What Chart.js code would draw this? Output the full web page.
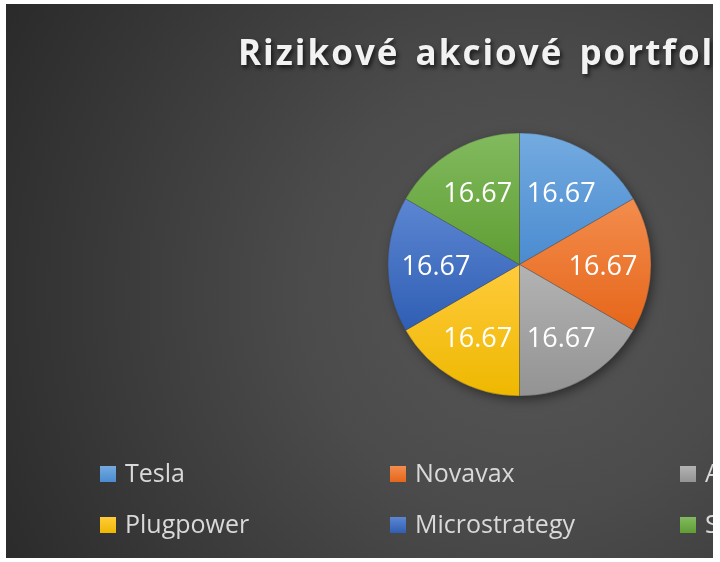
<!DOCTYPE html>
<html>
<head>
<meta charset="utf-8">
<script src="https://cdn.jsdelivr.net/npm/chart.js@4.4.1/dist/chart.umd.min.js"></script>
<style>
html, body { margin: 0; padding: 0; background: #fff; }
#box {
  position: absolute; left: 6px; top: 4px; width: 707px; height: 554px; overflow: hidden;
  background: radial-gradient(circle 640px at 519px 290px, #575757 0%, #4b4b4b 35%, #262626 100%);
}
canvas { display: block; }
</style>
</head>
<body>
<div id="box"><canvas id="pie"></canvas></div>
<script>
var titleText = 'Rizikové akciové portfolio';
var labels = ['Tesla', 'Novavax', 'AMC', 'Plugpower', 'Microstrategy', 'Square'];
var values = [16.67, 16.67, 16.67, 16.67, 16.67, 16.67];

// slice gradients, light at top, dark at bottom
var topColors = ['#74abe0', '#f38d4d', '#b3b3b3', '#ffcb3c', '#5c86d2', '#82ba5f'];
var bottomColors = ['#4a8bd0', '#e6661a', '#939393', '#eeb800', '#2f5eb3', '#5f9e33'];

var R = 131.5;

function sliceFill(c) {
  var chart = c.chart, area = chart.chartArea, i = c.dataIndex;
  if (!area) return topColors[i];
  var cx = (area.left + area.right) / 2, cy = (area.top + area.bottom) / 2;
  var total = 0, cum = 0;
  for (var k = 0; k < values.length; k++) { total += values[k]; if (k < i) cum += values[k]; }
  var a0 = -Math.PI / 2 + 2 * Math.PI * cum / total;
  var a1 = a0 + 2 * Math.PI * values[i] / total;
  var ys = [cy, cy + R * Math.sin(a0), cy + R * Math.sin(a1)];
  [-Math.PI / 2, Math.PI / 2, 3 * Math.PI / 2].forEach(function (a) {
    if (a > a0 && a < a1) ys.push(cy + R * Math.sin(a));
  });
  var g = chart.ctx.createLinearGradient(0, Math.min.apply(null, ys), 0, Math.max.apply(null, ys));
  g.addColorStop(0, topColors[i]);
  g.addColorStop(1, bottomColors[i]);
  return g;
}

var pieShadow = {
  id: 'pieShadow',
  beforeDatasetsDraw: function (chart) {
    var ctx = chart.ctx, a = chart.chartArea;
    ctx.save();
    ctx.shadowColor = 'rgba(0,0,0,0.5)';
    ctx.shadowBlur = 12;
    ctx.shadowOffsetX = 3;
    ctx.shadowOffsetY = 4;
    ctx.fillStyle = '#444';
    ctx.beginPath();
    ctx.arc((a.left + a.right) / 2, (a.top + a.bottom) / 2, R - 1, 0, Math.PI * 2);
    ctx.fill();
    ctx.restore();
  }
};

var sliceLabels = {
  id: 'sliceLabels',
  afterDatasetsDraw: function (chart) {
    var ctx = chart.ctx;
    var meta = chart.getDatasetMeta(0);
    ctx.save();
    ctx.font = '27px "Open Sans"';
    ctx.fillStyle = '#ffffff';
    ctx.textAlign = 'center';
    ctx.textBaseline = 'alphabetic';
    meta.data.forEach(function (arc, i) {
      var p = arc.getProps(['x', 'y', 'startAngle', 'endAngle', 'outerRadius'], true);
      var mid = (p.startAngle + p.endAngle) / 2;
      var d = p.outerRadius * 0.635;
      ctx.fillText(values[i].toFixed(2), p.x + Math.cos(mid) * d, p.y + Math.sin(mid) * d + 10);
    });
    ctx.restore();
  }
};

var titleAndLegend = {
  id: 'titleAndLegend',
  afterDraw: function (chart) {
    var ctx = chart.ctx;
    ctx.save();
    ctx.font = 'bold 35px "Open Sans"';
    if ('letterSpacing' in ctx) ctx.letterSpacing = '2px';
    if ('wordSpacing' in ctx) ctx.wordSpacing = '5px';
    ctx.fillStyle = '#f2f2f2';
    ctx.shadowColor = 'rgba(0,0,0,0.65)';
    ctx.shadowBlur = 4;
    ctx.shadowOffsetX = 2;
    ctx.shadowOffsetY = 3;
    ctx.textAlign = 'left';
    ctx.fillText(titleText, 232, 61);
    ctx.restore();

    ctx.save();
    ctx.font = '25px "Open Sans"';
    ctx.textAlign = 'left';
    labels.forEach(function (name, i) {
      var x = 94 + (i % 3) * 290;
      var y = 462 + Math.floor(i / 3) * 51;
      var g = ctx.createLinearGradient(0, y, 0, y + 16);
      g.addColorStop(0, topColors[i]);
      g.addColorStop(1, bottomColors[i]);
      ctx.fillStyle = g;
      ctx.fillRect(x, y, 16, 16);
      ctx.fillStyle = '#d9d9d9';
      ctx.fillText(name, x + 25, y + 16);
    });
    ctx.restore();
  }
};

new Chart(document.getElementById('pie'), {
  type: 'pie',
  data: {
    labels: labels,
    datasets: [{
      data: values,
      backgroundColor: sliceFill,
      borderColor: 'rgba(70,70,70,0.45)',
      borderWidth: 0.8
    }]
  },
  options: {
    responsive: true,
    maintainAspectRatio: false,
    animation: false,
    radius: R,
    layout: { padding: { left: 382, right: 62, top: 129, bottom: 162 } },
    plugins: {
      legend: { display: false },
      title: { display: false },
      tooltip: { enabled: false }
    }
  },
  plugins: [pieShadow, sliceLabels, titleAndLegend]
});
</script>
</body>
</html>
